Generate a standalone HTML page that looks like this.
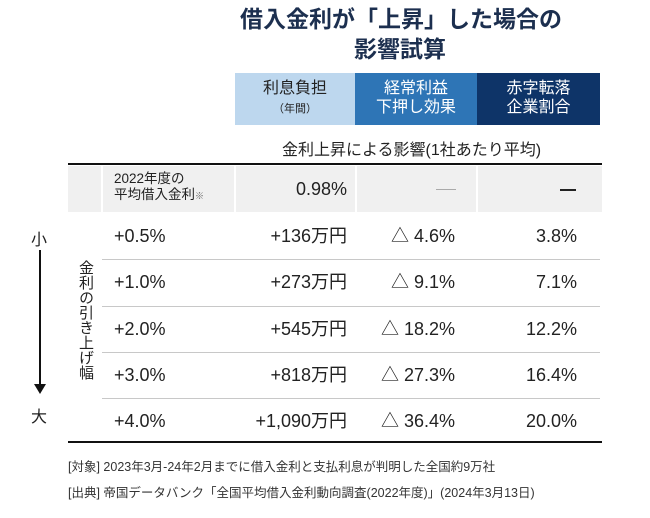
<!DOCTYPE html>
<html><head><meta charset="utf-8">
<style>
*{margin:0;padding:0;box-sizing:border-box}
body{width:650px;height:518px;background:#fff;position:relative;overflow:hidden;font-family:"Liberation Sans","Noto Sans CJK JP",sans-serif;color:#222}
.a{position:absolute;white-space:nowrap}
.title{font-weight:bold;font-size:23px;color:#1c2f4f;width:320px;text-align:center;left:240px;line-height:29px}
.hd{position:absolute;top:73px;height:52px;color:#fff;text-align:center;font-size:16px;line-height:19px;padding-top:6px}
.cell{font-size:18px;line-height:20px}
.r{text-align:right}
.sep{position:absolute;left:102px;width:498px;height:1px;background:#c8c8c8}
</style></head><body>
<div class="a title" style="top:5px">借入金利が「上昇」した場合の</div>
<div class="a title" style="top:35px">影響試算</div>

<div class="hd" style="left:235px;width:120px;background:#bdd7ee;color:#222">利息負担<br><span style="font-size:11px">（年間）</span></div>
<div class="hd" style="left:355px;width:122px;background:#2e75b6">経常利益<br>下押し効果</div>
<div class="hd" style="left:477px;width:123px;background:#0e3468">赤字転落<br>企業割合</div>
<div class="a" style="left:282px;top:136px;font-size:16px">金利上昇による影響(1社あたり平均)</div>

<div class="a" style="left:68px;top:163px;width:534px;height:2px;background:#111"></div>
<div class="a" style="left:68px;top:166px;width:534px;height:46px;background:#f0f0f0"></div>
<div class="a" style="left:101px;top:166px;width:2px;height:46px;background:#fff"></div>
<div class="a" style="left:234px;top:166px;width:2px;height:46px;background:#fff"></div>
<div class="a" style="left:355px;top:166px;width:2px;height:46px;background:#fff"></div>
<div class="a" style="left:476px;top:166px;width:2px;height:46px;background:#fff"></div>
<div class="a" style="left:114px;top:171px;font-size:13.5px;line-height:16px">2022年度の<br>平均借入金利<span style="font-size:9px;color:#666">※</span></div>
<div class="a cell r" style="right:303px;top:179px">0.98%</div>
<div class="a" style="left:436px;top:189px;width:20px;height:1px;background:#aaa"></div>
<div class="a" style="left:560px;top:189px;width:16px;height:2px;background:#222"></div>

<div id="rows"></div>

<div class="a" style="left:68px;top:441px;width:534px;height:2px;background:#111"></div>

<div class="a" style="left:31px;top:226px;font-size:16px">小</div>
<div class="a" style="left:39px;top:250px;width:2px;height:135px;background:#111"></div>
<div class="a" style="left:34px;top:384px;width:0;height:0;border-left:6px solid transparent;border-right:6px solid transparent;border-top:10px solid #111"></div>
<div class="a" style="left:31px;top:403px;font-size:16px">大</div>
<div class="a" style="left:77px;top:260px;font-size:15px;line-height:16.5px;width:16px;white-space:normal;writing-mode:vertical-rl">金利の引き上げ幅</div>

<div class="a" style="left:68px;top:456px;font-size:12.5px;color:#333">[対象] 2023年3月-24年2月までに借入金利と支払利息が判明した全国約9万社</div>
<div class="a" style="left:68px;top:482px;font-size:12.5px;color:#333">[出典] 帝国データバンク「全国平均借入金利動向調査(2022年度)」(2024年3月13日)</div>

<script>
const rates=["+0.5%","+1.0%","+2.0%","+3.0%","+4.0%"];
const burden=["+136万円","+273万円","+545万円","+818万円","+1,090万円"];
const profit=["△ 4.6%","△ 9.1%","△ 18.2%","△ 27.3%","△ 36.4%"];
const deficit=["3.8%","7.1%","12.2%","16.4%","20.0%"];
const box=document.getElementById('rows');
const rowH=46.3, top0=213;
rates.forEach((r,i)=>{
  const y=top0+i*rowH;
  const mk=(txt,style,name)=>{const d=document.createElement('div');d.className='a cell';d.style.cssText=style+';top:'+(y+13)+'px';d.textContent=txt;


box.appendChild(d);};
  mk(r,'left:114px','rate-'+i);
  mk(burden[i],'right:303px;text-align:right','burden-'+i);
  mk(profit[i],'right:195px;text-align:right','profit-'+i);
  mk(deficit[i],'right:73px;text-align:right','deficit-'+i);
  if(i<rates.length-1){const s=document.createElement('div');s.className='sep';s.style.top=(y+rowH)+'px';


box.appendChild(s);}
});
</script>
</body></html>
